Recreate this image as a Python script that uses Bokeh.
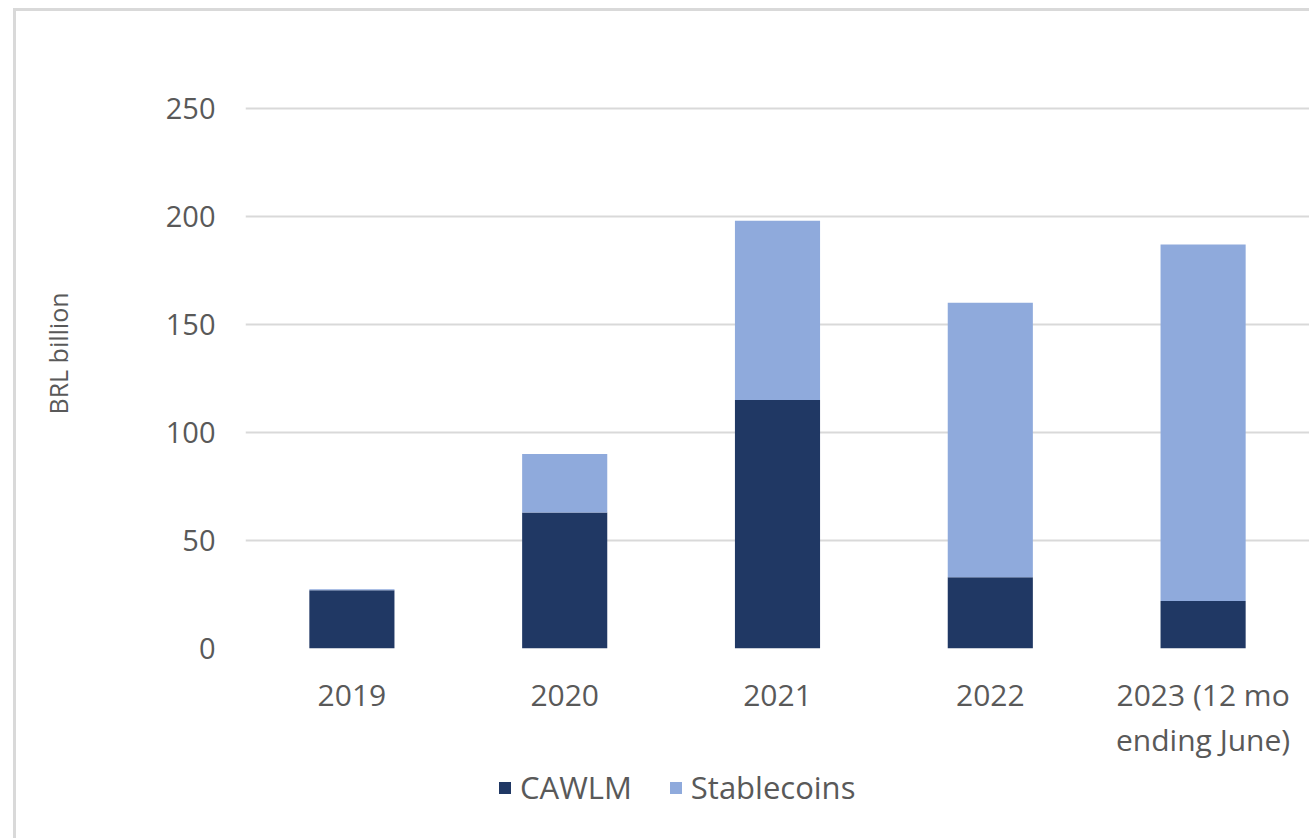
from bokeh.plotting import figure
from bokeh.layouts import column
from bokeh.models import ColumnDataSource, Range1d, FactorRange, FixedTicker, Legend, LegendItem
from bokeh.embed import file_html
from bokeh.resources import INLINE

categories = ["2019", "2020", "2021", "2022", "2023 (12 mo\nending June)"]
cawlm = [27, 63, 115, 33, 22]
stablecoins = [0.4, 27, 83, 127, 165]
series_names = ["CAWLM", "Stablecoins"]
colors = ["#203864", "#8FAADC"]
y_ticks = [0, 50, 100, 150, 200, 250]

FONT = "Open Sans"
TXT = "#595959"

source = ColumnDataSource(dict(x=categories, CAWLM=cawlm, Stablecoins=stablecoins))
xr = FactorRange(*categories, range_padding=0)

p = figure(width=1309, height=766, x_range=xr,
           y_range=Range1d(0, 273.1), output_backend="svg", toolbar_location=None,
           min_border_left=245, min_border_right=0, min_border_top=58, min_border_bottom=118)

rs = p.vbar_stack(series_names, x="x", width=0.4, color=colors, source=source, line_width=0)

p.outline_line_color = None
p.background_fill_alpha = 0
p.border_fill_alpha = 0

p.xgrid.grid_line_color = None
p.ygrid.grid_line_color = "#d9d9d9"
p.ygrid.grid_line_width = 2
p.yaxis.ticker = FixedTicker(ticks=y_ticks)

for ax in (p.xaxis, p.yaxis):
    ax.axis_line_color = None
    ax.major_tick_line_color = None
    ax.minor_tick_line_color = None
    ax.major_tick_out = 0
    ax.major_tick_in = 0
    ax.major_label_text_font = FONT
    ax.major_label_text_color = TXT

p.yaxis.major_label_text_font_size = "29px"
p.yaxis.major_label_standoff = 30
p.xaxis.major_label_text_font_size = "30px"
p.xaxis.major_label_standoff = 25
p.xaxis.major_label_text_line_height = 1.1

p.yaxis.axis_label = "BRL billion"
p.yaxis.axis_label_text_font = FONT
p.yaxis.axis_label_text_font_size = "25px"
p.yaxis.axis_label_text_font_style = "normal"
p.yaxis.axis_label_text_color = TXT
p.yaxis.axis_label_standoff = 88

# legend strip below the chart (same bars, drawn out of view, only feed the legend)
p2 = figure(width=1309, height=72, output_backend="svg", toolbar_location=None,
            min_border_left=0, min_border_right=0, min_border_top=0, min_border_bottom=0,
            x_range=xr, y_range=Range1d(1000, 1001))
p2.axis.visible = False
p2.grid.visible = False
p2.outline_line_color = None
p2.background_fill_alpha = 0
p2.border_fill_alpha = 0
legend_rs = p2.vbar_stack(series_names, x="x", width=0.4, color=colors, source=source, line_width=0)

legend = Legend(items=[LegendItem(label=n, renderers=[r]) for n, r in zip(series_names, legend_rs)],
                orientation="horizontal", location=(252, 30),
                label_text_font=FONT, label_text_font_size="31px", label_text_color=TXT,
                glyph_width=15, glyph_height=15, label_standoff=8, spacing=36,
                padding=0, margin=0, border_line_color=None, background_fill_alpha=0)
p2.add_layout(legend, "center")

layout = column(p, p2, spacing=0)
layout.styles = {
    "background": "linear-gradient(#d9d9d9,#d9d9d9) 13px 8px/3px 100% no-repeat, "
                  "linear-gradient(#d9d9d9,#d9d9d9) 13px 8px/100% 3px no-repeat, white"
}

open("out.html", "w").write(file_html(layout, INLINE))
